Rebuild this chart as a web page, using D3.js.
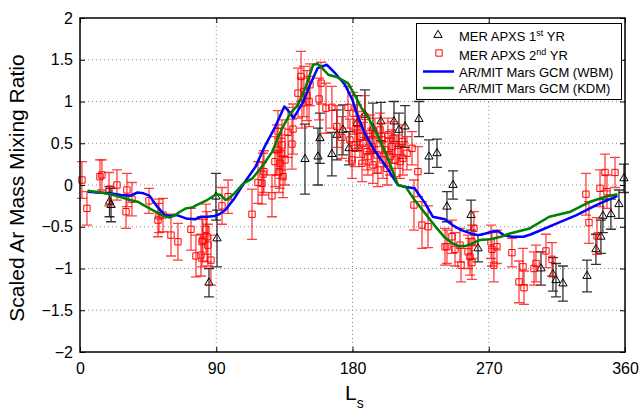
<!DOCTYPE html>
<html>
<head>
<meta charset="utf-8">
<script src="https://cdn.jsdelivr.net/npm/d3@7"></script>
<style>
    body { margin: 0; background: #fff; }
    svg { font-family: "Liberation Sans", Arial, sans-serif; }
    .grid line { stroke: #8c8c8c; stroke-dasharray: 1, 3; stroke-width: 1; }
    .axis text { font-size: 16px; fill: #000; }
    .axis line { stroke: #000; stroke-width: 1; }
</style>
</head>
<body>
<svg width="641" height="412"></svg>
<script>
/*global d3 */
(function () {
    "use strict";

    // tick values on both axes
    var xTicks = [0, 90, 180, 270, 360];
    var yTicks = [-2, -1.5, -1, -0.5, 0, 0.5, 1, 1.5, 2];

    // AR/MIT Mars GCM (WBM): [Ls, ratio]
    var wbm = [
        [5, -0.08], [12, -0.09], [20, -0.1], [27, -0.12], [33, -0.13],
        [38, -0.09], [42, -0.1], [46, -0.13], [51, -0.26], [56, -0.36],
        [60, -0.37], [64, -0.36], [70, -0.4], [76, -0.41], [80, -0.38],
        [84, -0.38], [89, -0.37], [92, -0.35], [96, -0.3], [102, -0.16],
        [109, 0.04], [116, 0.22], [122, 0.46], [129, 0.7], [135, 0.94],
        [138, 0.88], [141, 0.8], [147, 0.98], [152, 1.2], [157, 1.4],
        [163, 1.44], [168, 1.35], [175, 1.2], [180, 1.02], [182, 0.9],
        [188, 0.62], [195, 0.4], [203, 0.2], [210, 0], [214, -0.02],
        [221, -0.04], [228, -0.22], [233, -0.38], [241, -0.41],
        [246, -0.48], [252, -0.54], [258, -0.58], [263, -0.6],
        [268, -0.58], [272, -0.56], [276, -0.55], [280, -0.6],
        [285, -0.62], [293, -0.62], [298, -0.59], [302, -0.56],
        [315, -0.46], [328, -0.36], [341, -0.24], [355, -0.13]
    ];

    // AR/MIT Mars GCM (KDM): [Ls, ratio]
    var kdm = [
        [5, -0.07], [14, -0.09], [22, -0.12], [28, -0.15], [33, -0.18],
        [38, -0.2], [42, -0.24], [48, -0.3], [55, -0.37], [59, -0.39],
        [62, -0.37], [66, -0.32], [70, -0.28], [74, -0.27], [77, -0.24],
        [84, -0.18], [90, -0.11], [93, -0.12], [96, -0.18], [99, -0.15],
        [102, -0.1], [108, 0.02], [114, 0.08], [121, 0.24], [127, 0.4],
        [133, 0.66], [139, 0.86], [144, 0.96], [149, 1.17], [154, 1.44],
        [157, 1.45], [160, 1.4], [164, 1.32], [170, 1.29], [177, 1.22],
        [182, 1.06], [186, 0.92], [190, 0.82], [197, 0.58], [203, 0.34],
        [210, 0], [215, -0.02], [221, -0.18], [228, -0.34], [234, -0.48],
        [241, -0.63], [246, -0.7], [250, -0.73], [255, -0.73],
        [259, -0.7], [264, -0.66], [271, -0.65], [278, -0.62],
        [284, -0.58], [297, -0.52], [310, -0.38], [324, -0.32],
        [337, -0.2], [347, -0.14], [355, -0.11]
    ];

    // MER APXS 1st year: [Ls, ratio, error]
    var year1 = [
        [19.5, -0.2, 0.18], [20.5, -0.24, 0.2], [85.2, -1.17, 0.17],
        [89.8, -0.14, 0.28], [90.5, -0.64, 0.34], [148.6, 0.31, 0.42],
        [157.2, 0.34, 0.34], [158.5, 0.56, 0.3], [166.4, 0.37, 0.26],
        [169.7, 0.6, 0.3], [173.7, 0.66, 0.3], [177.7, 0.44, 0.2],
        [183, 0.74, 0.33], [188.2, 0.84, 0.3], [193.5, 0.68, 0.3],
        [198.8, 0.76, 0.23], [207.4, 0.76, 0.24], [210.7, 0.66, 0.2],
        [214.7, 0.7, 0.25], [223.9, 0.79, 0.21], [230.5, 0.34, 0.2],
        [235.8, 0.38, 0.17], [242.4, -0.26, 0.18], [246.4, 0, 0.17],
        [258.3, -0.36, 0.18], [262.9, -0.76, 0.16], [304.5, -1, 0.2],
        [312.4, -1.07, 0.2], [314.4, -1.14, 0.2], [319, -1.18, 0.21],
        [334.9, -1.09, 0.19], [340.8, -0.77, 0.18], [344.1, -0.62, 0.2],
        [345.4, -0.37, 0.2], [350.7, -0.35, 0.18], [356, -0.23, 0.17],
        [359.3, 0.08, 0.17]
    ];

    // MER APXS 2nd year: [Ls, ratio, error]
    var year2 = [
        [1.3, 0.06, 0.22], [4.6, -0.28, 0.2], [13.2, 0.1, 0.2],
        [14.5, 0.12, 0.18], [19.2, -0.05, 0.2], [24.4, 0, 0.18],
        [30.4, -0.32, 0.2], [31, -0.06, 0.2], [34.3, -0.17, 0.2],
        [45.6, -0.19, 0.15], [51.5, -0.42, 0.2], [52.2, -0.37, 0.2],
        [54.8, -0.36, 0.2], [60.1, -0.6, 0.25], [64.7, -0.68, 0.22],
        [73.3, -0.53, 0.25], [76.6, -0.85, 0.25], [79.9, -0.84, 0.25],
        [80.6, -0.68, 0.3], [81.2, -0.66, 0.25], [83.2, -0.53, 0.3],
        [83.9, -0.62, 0.3], [84.5, -0.72, 0.25], [86.5, -0.9, 0.3],
        [93.8, -0.25, 0.22], [97.8, -0.14, 0.2], [113.6, -0.35, 0.3],
        [117.6, 0.03, 0.25], [120.2, 0.02, 0.25], [120.9, 0.13, 0.25],
        [121.5, 0.16, 0.25], [126.8, -0.13, 0.25], [128.8, 0.28, 0.3],
        [130.1, 0.42, 0.3], [130.8, 0.64, 0.25], [131.5, 0.16, 0.25],
        [132.1, 0.26, 0.3], [132.8, 0.38, 0.3], [133.4, 0.48, 0.3],
        [134.1, 0.1, 0.25], [135.4, 0.3, 0.3], [137.4, 0.63, 0.3],
        [140, 0.49, 0.3], [140.7, 0.67, 0.3], [144, 1.1, 0.3],
        [146, 1.3, 0.3], [146.6, 0.98, 0.3], [147.9, 1.12, 0.3],
        [149.9, 1.07, 0.3], [151.3, 1, 0.3], [151.9, 1.2, 0.25],
        [157.9, 1.03, 0.25], [159.2, 1.22, 0.25], [162.5, 0.92, 0.3],
        [166.4, 0.93, 0.25], [169.7, 0.7, 0.25], [173, 0.57, 0.25],
        [177, 0.93, 0.25], [178.3, 0.54, 0.25], [179.7, 0.3, 0.22],
        [180.3, 0.86, 0.25], [181.6, 0.44, 0.22], [183, 0.74, 0.22],
        [183.6, 0.66, 0.22], [184.9, 0.58, 0.25], [186.3, 0.26, 0.22],
        [186.9, 0.5, 0.25], [188.2, 0.82, 0.25], [189.6, 0.4, 0.22],
        [190.2, 0.34, 0.22], [191.5, 0.62, 0.22], [192.9, 0.46, 0.22],
        [193.5, 0.24, 0.22], [194.8, 0.6, 0.2], [196.2, 0.36, 0.22],
        [196.8, 0.18, 0.2], [198.2, 0.66, 0.2], [199.5, 0.54, 0.2],
        [200.1, 0.3, 0.22], [201.5, 0.42, 0.2], [202.8, 0.2, 0.2],
        [203.4, 0.6, 0.2], [204.8, 0.34, 0.22], [206.1, 0.46, 0.2],
        [206.7, 0.56, 0.2], [208.1, 0.3, 0.2], [210, 0.4, 0.2],
        [211.4, 0.28, 0.2], [212.7, 0.52, 0.2], [213.3, 0.32, 0.2],
        [216, 0.38, 0.2], [219.3, 0.44, 0.2], [220.6, -0.24, 0.3],
        [223.2, 0.16, 0.3], [225.9, -0.48, 0.28], [229.9, -0.5, 0.25],
        [241.1, -0.74, 0.22], [242.4, -0.74, 0.2], [245.7, -0.62, 0.2],
        [247.7, -0.77, 0.2], [251, -0.72, 0.2], [251.7, -0.96, 0.2],
        [256.3, -0.8, 0.2], [257.6, -0.86, 0.22], [258.9, -0.93, 0.2],
        [258.9, -0.68, 0.2], [260.2, -0.52, 0.2], [271.5, -0.68, 0.2],
        [272.1, -0.77, 0.2], [273.4, -0.96, 0.2], [275.4, -0.74, 0.2],
        [285.3, -0.81, 0.17], [290, -1.16, 0.25], [292.6, -0.98, 0.22],
        [293.3, -1.23, 0.2], [299.9, -1, 0.2], [301.2, -0.94, 0.22],
        [307.8, -0.79, 0.2], [311.8, -0.89, 0.2], [334.2, -0.11, 0.25],
        [336.2, -0.45, 0.25], [341.5, -0.61, 0.22], [343.5, -0.04, 0.22],
        [346.8, 0.15, 0.22], [348.1, -0.08, 0.2], [353.4, 0.15, 0.18]
    ];

    var box = {left: 80, right: 625, top: 18, bottom: 352};
    var capHalf = 5; // px

    var svg = d3.select("svg");

    var x = d3.scaleLinear()
        .domain([0, 360])
        .range([box.left, box.right]);
    var y = d3.scaleLinear()
        .domain([-2, 2])
        .range([box.bottom, box.top]);

    var minus = function (d) {
        return String(d).replace("-", "\u2212");
    };

    // dotted grid
    var grid = svg.append("g").attr("class", "grid");
    grid.selectAll("line.gx")
        .data(xTicks.slice(1, -1))
        .join("line")
        .attr("x1", x).attr("x2", x)
        .attr("y1", box.top).attr("y2", box.bottom);
    grid.selectAll("line.gy")
        .data(yTicks.slice(1, -1))
        .join("line")
        .attr("class", "gy")
        .attr("x1", box.left).attr("x2", box.right)
        .attr("y1", y).attr("y2", y);

    var addAxis = function (axis, tx, ty) {
        var g = svg.append("g")
            .attr("class", "axis")
            .attr("transform", "translate(" + tx + "," + ty + ")")
            .call(axis);
        g.select(".domain").remove();
        return g;
    };

    addAxis(d3.axisBottom(x).tickValues(xTicks).tickSizeInner(-5)
        .tickSizeOuter(0).tickPadding(11).tickFormat(minus), 0, box.bottom);
    addAxis(d3.axisLeft(y).tickValues(yTicks).tickSizeInner(-5)
        .tickSizeOuter(0).tickPadding(7).tickFormat(minus), box.left, 0);
    addAxis(d3.axisTop(x).tickValues(xTicks).tickSizeInner(-5)
        .tickSizeOuter(0).tickFormat(""), 0, box.top);
    addAxis(d3.axisRight(y).tickValues(yTicks).tickSizeInner(-5)
        .tickSizeOuter(0).tickFormat(""), box.right, 0);

    var plot = svg.append("g");

    var errorBars = function (data, color, opacity) {
        var g = plot.append("g")
            .attr("stroke", color)
            .attr("stroke-opacity", opacity)
            .attr("stroke-width", 1.3)
            .attr("fill", "none");
        g.selectAll("path")
            .data(data)
            .join("path")
            .attr("d", function (d) {
                var cx = x(d[0]);
                var top = y(d[1] + d[2]);
                var bot = y(d[1] - d[2]);
                return "M" + cx + "," + top + "V" + bot +
                        "M" + (cx - capHalf) + "," + top + "h" + 2 * capHalf +
                        "M" + (cx - capHalf) + "," + bot + "h" + 2 * capHalf;
            });
    };

    var triangle = d3.symbol(d3.symbolTriangle, 30);
    var square = d3.symbol(d3.symbolSquare, 40);

    errorBars(year1, "#000", 0.8);
    plot.append("g")
        .selectAll("path")
        .data(year1)
        .join("path")
        .attr("transform", function (d) {
            return "translate(" + x(d[0]) + "," + y(d[1]) + ")";
        })
        .attr("d", triangle)
        .attr("fill", "none")
        .attr("stroke", "#000")
        .attr("stroke-width", 1);

    errorBars(year2, "#ff0000", 0.75);
    plot.append("g")
        .selectAll("path")
        .data(year2)
        .join("path")
        .attr("transform", function (d) {
            return "translate(" + x(d[0]) + "," + y(d[1]) + ")";
        })
        .attr("d", square)
        .attr("fill", "none")
        .attr("stroke", "#ff0000")
        .attr("stroke-width", 1);

    var line = d3.line()
        .x(function (d) {
            return x(d[0]);
        })
        .y(function (d) {
            return y(d[1]);
        });

    plot.append("path")
        .datum(wbm)
        .attr("d", line)
        .attr("fill", "none")
        .attr("stroke", "#0000ff")
        .attr("stroke-width", 2.5)
        .attr("stroke-linejoin", "round");
    plot.append("path")
        .datum(kdm)
        .attr("d", line)
        .attr("fill", "none")
        .attr("stroke", "#008000")
        .attr("stroke-width", 2.5)
        .attr("stroke-linejoin", "round");

    // axes box
    svg.append("rect")
        .attr("x", box.left)
        .attr("y", box.top)
        .attr("width", box.right - box.left)
        .attr("height", box.bottom - box.top)
        .attr("fill", "none")
        .attr("stroke", "#000")
        .attr("stroke-width", 1.5);

    // axis titles
    svg.append("text")
        .attr("transform", "translate(24,188) rotate(-90)")
        .attr("text-anchor", "middle")
        .attr("font-size", 21)
        .text("Scaled Ar Mass Mixing Ratio");
    var xl = svg.append("text")
        .attr("x", 345)
        .attr("y", 400)
        .attr("font-size", 21)
        .text("L");
    xl.append("tspan")
        .attr("font-size", 14)
        .attr("dy", 8)
        .text("s");

    // legend
    var legend = svg.append("g").attr("font-size", 13);
    legend.append("rect")
        .attr("x", 416.5).attr("y", 23.5)
        .attr("width", 205).attr("height", 76)
        .attr("fill", "#fff")
        .attr("stroke", "#000")
        .attr("stroke-width", 1);

    var addLabel = function (yy, parts) {
        var t = legend.append("text").attr("x", 459).attr("y", yy);
        parts.forEach(function (p) {
            var s = t.append("tspan").text(p[0]);
            if (p[1]) {
                s.attr("font-size", 9).attr("dy", -5);
            } else if (p[2]) {
                s.attr("dy", 5);
            }
        });
    };

    legend.append("path")
        .attr("transform", "translate(438,35)")
        .attr("d", triangle)
        .attr("fill", "none")
        .attr("stroke", "#000");
    addLabel(41, [["MER APXS 1"], ["st", true], [" YR", false, true]]);

    legend.append("path")
        .attr("transform", "translate(439,53)")
        .attr("d", square)
        .attr("fill", "none")
        .attr("stroke", "#ff0000");
    addLabel(60, [["MER APXS 2"], ["nd", true], [" YR", false, true]]);

    legend.append("line")
        .attr("x1", 423).attr("x2", 454)
        .attr("y1", 71.5).attr("y2", 71.5)
        .attr("stroke", "#0000ff").attr("stroke-width", 2.5);
    addLabel(77, [["AR/MIT Mars GCM (WBM)"]]);

    legend.append("line")
        .attr("x1", 423).attr("x2", 454)
        .attr("y1", 88).attr("y2", 88)
        .attr("stroke", "#008000").attr("stroke-width", 2.5);
    addLabel(93, [["AR/MIT Mars GCM (KDM)"]]);
}());
</script>
</body>
</html>
